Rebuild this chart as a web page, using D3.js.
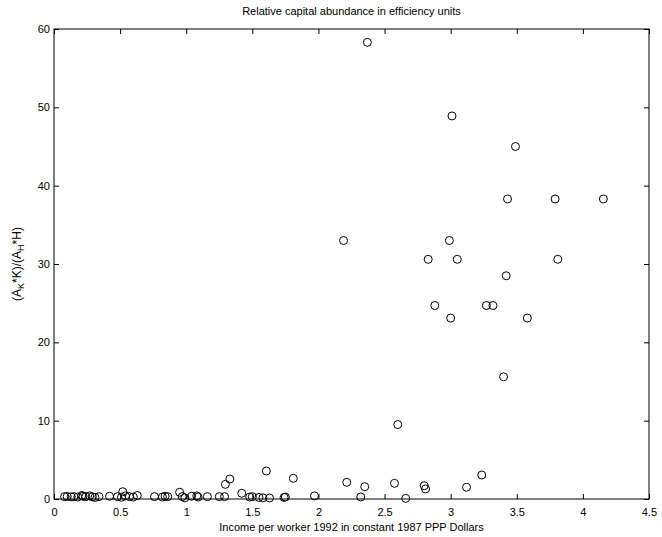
<!DOCTYPE html>
<html>
<head>
<meta charset="utf-8">
<script src="https://cdn.jsdelivr.net/npm/d3@7"></script>
<style>
  body { margin: 0; background: #fff; }
  svg text { font-family: "Liberation Sans", Arial, sans-serif; fill: #000; }
  .axis path { display: none; }
  .axis line { stroke: #000; }
</style>
</head>
<body>
<svg id="chart" width="662" height="537"></svg>
<script>
// income per worker (x) and relative capital abundance (y)
var income = [
  // high group
  2.37, 3.01, 3.49, 3.43, 3.79, 4.155, 2.19, 2.99, 2.83, 3.05, 3.81, 3.42, 2.88, 3.27, 3.32, 3.00, 3.58, 3.40, 2.60,
  // small but visible
  1.606, 1.81, 2.214, 2.35, 2.575, 2.80, 2.81, 3.12, 3.235, 1.33, 1.296,
  // near zero
  0.08, 0.10, 0.13, 0.15, 0.18, 0.21, 0.22, 0.24, 0.27, 0.29, 0.31, 0.34, 0.42, 0.48, 0.51, 0.52, 0.54, 0.57, 0.60, 0.63,
  0.76, 0.82, 0.84, 0.86, 0.95, 0.97, 0.99, 1.04, 1.08, 1.09, 1.16, 1.25, 1.29, 1.42, 1.48, 1.50, 1.55, 1.58, 1.63,
  1.74, 1.75, 1.97, 2.32, 2.66
];
var ratio = [
  58.3, 48.9, 45.0, 38.3, 38.3, 38.3, 33.0, 33.0, 30.6, 30.6, 30.6, 28.5, 24.7, 24.7, 24.7, 23.1, 23.1, 15.6, 9.5,
  3.57, 2.64, 2.13, 1.57, 2.0, 1.7, 1.28, 1.5, 3.06, 2.55, 1.87,
  0.30, 0.32, 0.28, 0.30, 0.25, 0.45, 0.35, 0.30, 0.40, 0.28, 0.20, 0.30, 0.35, 0.30, 0.22, 0.93, 0.40, 0.30, 0.25, 0.45,
  0.30, 0.25, 0.35, 0.30, 0.86, 0.30, 0.15, 0.35, 0.40, 0.25, 0.30, 0.30, 0.30, 0.73, 0.25, 0.30, 0.20, 0.15, 0.13,
  0.20, 0.25, 0.40, 0.26, 0.08
];
var xTicks = [0, 0.5, 1, 1.5, 2, 2.5, 3, 3.5, 4, 4.5];
var yTicks = [0, 10, 20, 30, 40, 50, 60];

var svg = d3.select("#chart");
var pLeft = 54, pRight = 649, pTop = 29, pBottom = 499;

var x = d3.scaleLinear().domain([0, 4.5]).range([pLeft, pRight]);
var y = d3.scaleLinear().domain([0, 60]).range([pBottom, pTop]);

var pts = income.map(function(d, i) { return {x: d, y: ratio[i]}; });

svg.append("g").selectAll("circle")
  .data(pts)
  .enter()
  .append("circle")
  .attr("cx", d => x(d.x))
  .attr("cy", d => y(d.y))
  .attr("r", 4)
  .attr("fill", "none")
  .attr("stroke", "#000")
  .attr("stroke-width", 1);

// axes, ticks pointing inward like matlab
svg.append("g").attr("class", "axis")
  .attr("transform", `translate(0,${pBottom})`)
  .call(d3.axisBottom(x).tickValues(xTicks).tickSize(-5).tickPadding(9).tickFormat(d3.format("")))
  .selectAll("text").style("font-size", "11px");

svg.append("g").attr("class", "axis")
  .attr("transform", `translate(0,${pTop})`)
  .call(d3.axisTop(x).tickValues(xTicks).tickSize(-5).tickFormat(""));

svg.append("g").attr("class", "axis")
  .attr("transform", `translate(${pLeft},0)`)
  .call(d3.axisLeft(y).tickValues(yTicks).tickSize(-5).tickPadding(4))
  .selectAll("text").style("font-size", "11px");

svg.append("g").attr("class", "axis")
  .attr("transform", `translate(${pRight},0)`)
  .call(d3.axisRight(y).tickValues(yTicks).tickSize(-5).tickFormat(""));

svg.append("rect")
  .attr("x", pLeft).attr("y", pTop)
  .attr("width", pRight - pLeft).attr("height", pBottom - pTop)
  .attr("fill", "none").attr("stroke", "#000").attr("stroke-width", 1);

svg.append("text")
  .attr("x", (pLeft + pRight) / 2).attr("y", 15)
  .attr("text-anchor", "middle")
  .style("font-size", "11px")
  .text("Relative capital abundance in efficiency units");

svg.append("text")
  .attr("x", (pLeft + pRight) / 2).attr("y", 531)
  .attr("text-anchor", "middle")
  .style("font-size", "11px")
  .text("Income per worker 1992 in constant 1987 PPP Dollars");

var yl = svg.append("text")
  .attr("transform", `translate(21,${(pTop + pBottom) / 2}) rotate(-90)`)
  .attr("text-anchor", "middle")
  .style("font-size", "12px");
yl.append("tspan").text("(A");
yl.append("tspan").attr("dy", 3).style("font-size", "9px").text("K");
yl.append("tspan").attr("dy", -3).text("*K)/(A");
yl.append("tspan").attr("dy", 3).style("font-size", "9px").text("H");
yl.append("tspan").attr("dy", -3).text("*H)");
</script>
</body>
</html>
